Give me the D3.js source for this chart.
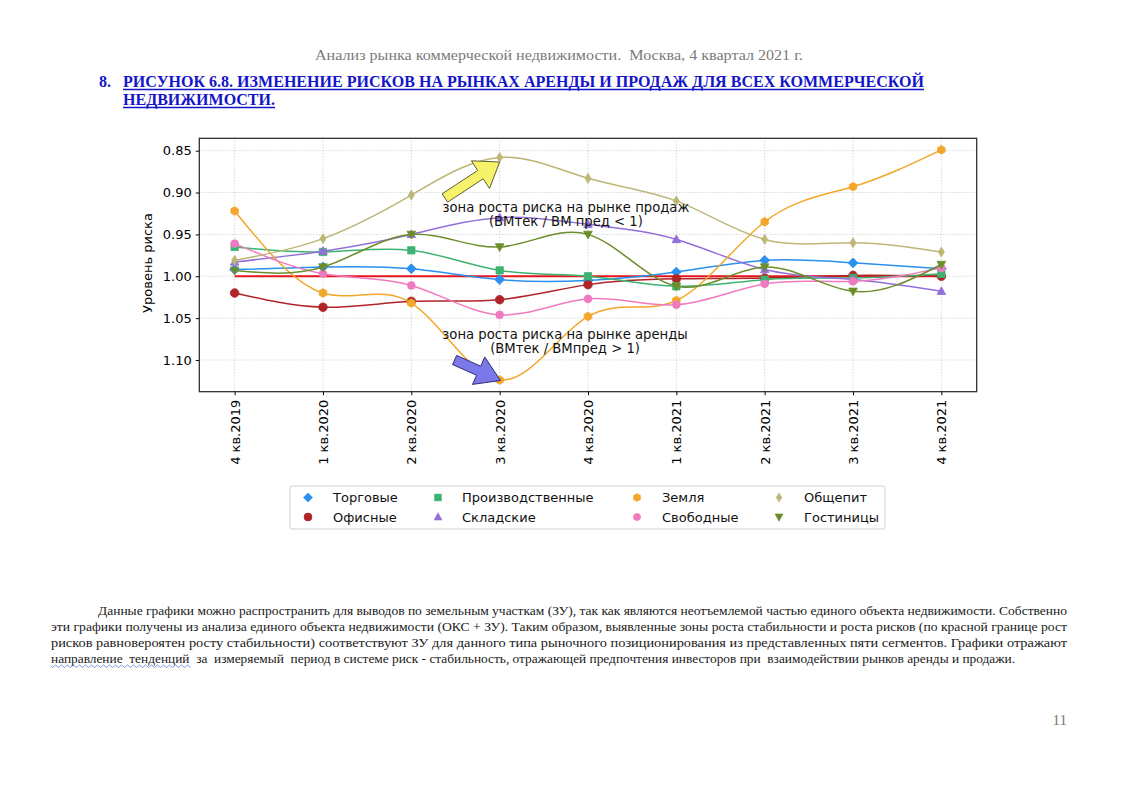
<!DOCTYPE html>
<html><head><meta charset="utf-8">
<script src="https://cdn.jsdelivr.net/npm/d3@7"></script>
<style>
html,body{margin:0;padding:0;background:#fff;}
svg{display:block;}
text{white-space:pre;}
</style></head>
<body>
<svg id="page" width="1121" height="790"></svg>
<script>
// ---------- DATA ----------
const quarters = ["4 кв.2019","1 кв.2020","2 кв.2020","3 кв.2020","4 кв.2020","1 кв.2021","2 кв.2021","3 кв.2021","4 кв.2021"];
const seriesNames = ["Торговые","Офисные","Производственные","Складские","Земля","Свободные","Общепит","Гостиницы"];
const torgovye   = [0.992,0.989,0.991,1.004,1.005,0.995,0.981,0.984,0.991];
const ofisnye    = [1.020,1.037,1.030,1.028,1.010,1.003,1.002,0.999,1.000];
const proizv     = [0.965,0.971,0.969,0.993,1.000,1.012,1.004,1.002,0.997];
const skladskie  = [0.983,0.970,0.950,0.930,0.938,0.956,0.992,1.004,1.018];
const zemlya     = [0.922,1.020,1.032,1.124,1.048,1.029,0.935,0.893,0.849];
const svobodnye  = [0.961,0.997,1.011,1.046,1.027,1.034,1.009,1.006,0.990];
const obshchepit = [0.981,0.955,0.903,0.858,0.883,0.910,0.956,0.960,0.971];
const gostinitsy = [0.993,0.989,0.950,0.965,0.950,1.012,0.989,1.018,0.986];
const borderLevel = [1,1,1,1,1,1,1,1,1];
const yTicks = [0.85,0.90,0.95,1.00,1.05,1.10];
const seriesValues = [torgovye,ofisnye,proizv,skladskie,zemlya,svobodnye,obshchepit,gostinitsy];
const seriesColors = ["#2a8ff0","#b02428","#3cb371","#9270d8","#f2a62a","#f07ac0","#bdb776","#6b8e2a"];
const seriesMarkers = ["D","o","s","^","h","o2","d","v"];
const annoText1 = ["зона роста риска на рынке продаж","(ВМтек / ВМ пред < 1)"];
const annoText2 = ["зона роста риска на рынке аренды","(ВМтек / ВМпред > 1)"];
// annotation anchors in data coords [x index, value]
const arrow1 = {from:[2.38,0.9065], to:[3.0,0.8635]};
const arrow2 = {from:[2.49,1.100], to:[3.01,1.1245]};
const anno1Pos = [3.75,0.918];
const anno2Pos = [3.74,1.070];

const headerText = "Анализ рынка коммерческой недвижимости.  Москва, 4 квартал 2021 г.";
const titleNum = "8.";
const titleLines = ["РИСУНОК 6.8. ИЗМЕНЕНИЕ РИСКОВ НА РЫНКАХ АРЕНДЫ И ПРОДАЖ ДЛЯ ВСЕХ КОММЕРЧЕСКОЙ","НЕДВИЖИМОСТИ."];
const paraLines = [
 "Данные графики можно распространить для выводов по земельным участкам (ЗУ), так как являются неотъемлемой частью единого объекта недвижимости. Собственно",
 "эти графики получены из анализа единого объекта недвижимости (ОКС + ЗУ). Таким образом, выявленные зоны роста стабильности и роста рисков (по красной границе рост",
 "рисков равновероятен росту стабильности) соответствуют ЗУ для данного типа рыночного позиционирования из представленных пяти сегментов. Графики отражают",
 "направление  тенденций  за  измеряемый  период в системе риск - стабильность, отражающей предпочтения инвесторов при  взаимодействии рынков аренды и продажи."
];
const pageNum = "11";

// ---------- PAGE ----------
const svg = d3.select("#page");
svg.append("rect").attr("width",1121).attr("height",790).attr("fill","#fff");

const serif = "'Liberation Serif','Times New Roman',serif";
svg.append("text").attr("x",315).attr("y",60).attr("font-family",serif).attr("font-size",15)
  .attr("fill","#7a7a7a").attr("textLength",488).attr("lengthAdjust","spacingAndGlyphs").text(headerText);

svg.append("text").attr("x",99).attr("y",87).attr("font-family",serif).attr("font-size",16)
  .attr("font-weight","bold").attr("fill","#1414c8").text(titleNum);
const tl = [{t:titleLines[0],y:87,w:801},{t:titleLines[1],y:105,w:152}];
tl.forEach(d=>{
  svg.append("text").attr("x",123).attr("y",d.y).attr("font-family",serif).attr("font-size",16)
    .attr("font-weight","bold").attr("fill","#1414c8").attr("textLength",d.w).attr("lengthAdjust","spacingAndGlyphs").text(d.t);
  svg.append("line").attr("x1",123).attr("x2",123+d.w).attr("y1",d.y+2.5).attr("y2",d.y+2.5)
    .attr("stroke","#1414c8").attr("stroke-width",1.3);
});

const pl = [{x:98,w:969,y:615},{x:51,w:1016,y:631},{x:51,w:1016,y:647},{x:51,w:964,y:663}];
pl.forEach((d,i)=>{
  svg.append("text").attr("x",d.x).attr("y",d.y).attr("font-family",serif).attr("font-size",12.5)
    .attr("fill","#1a1a1a").attr("textLength",d.w).attr("lengthAdjust","spacingAndGlyphs").text(paraLines[i]);
});
// spell-check wavy underline under "направление тенденций"
{
  let p = "M51,666";
  for(let x=51;x<190;x+=3){ p += ` L${x+1.5},${(x/3)%2?667.5:665}`; }
  svg.append("path").attr("d",p).attr("fill","none").attr("stroke","#5a7fd0").attr("stroke-width",0.8);
}
svg.append("text").attr("x",1067).attr("y",725).attr("text-anchor","end").attr("font-family",serif)
  .attr("font-size",15).attr("fill","#7a7a7a").text(pageNum);

// ---------- CHART ----------
const font = "'DejaVu Sans',sans-serif";
const L=199.3, R=976.7, T=138.3, B=391.7;
const x = d3.scaleLinear().domain([-0.4,8.4]).range([L,R]);
const y = d3.scaleLinear().domain([0.8352,1.1379]).range([T,B]);
const g = svg.append("g");

// grid
g.selectAll(".gx").data(quarters).enter().append("line")
  .attr("x1",(d,i)=>x(i)).attr("x2",(d,i)=>x(i)).attr("y1",T).attr("y2",B)
  .attr("stroke","#b8b8b8").attr("stroke-width",0.8).attr("stroke-dasharray","1,2");
g.selectAll(".gy").data(yTicks).enter().append("line")
  .attr("x1",L).attr("x2",R).attr("y1",d=>y(d)).attr("y2",d=>y(d))
  .attr("stroke","#b8b8b8").attr("stroke-width",0.8).attr("stroke-dasharray","1,2");

// axes
const yAxis = d3.axisLeft(y).tickValues(yTicks).tickFormat(d3.format(".2f")).tickSize(3.5).tickPadding(4);
const ya = g.append("g").attr("transform",`translate(${L},0)`).call(yAxis);
ya.select(".domain").remove();
ya.selectAll("text").attr("font-family",font).attr("font-size",13).attr("fill","#000");
ya.selectAll("line").attr("stroke","#000");
const xAxis = d3.axisBottom(x).tickValues(d3.range(quarters.length)).tickFormat(i=>quarters[i]).tickSize(3.5).tickPadding(4);
const xa = g.append("g").attr("transform",`translate(0,${B})`).call(xAxis);
xa.select(".domain").remove();
xa.selectAll("line").attr("stroke","#000");
xa.selectAll("text").attr("font-family",font).attr("font-size",13).attr("fill","#000")
  .attr("transform","translate(0,8) rotate(-90)").attr("text-anchor","end").attr("dy","0.35em").attr("y",0).attr("x",0);

g.append("text").attr("transform",`translate(152,${(T+B)/2-2}) rotate(-90)`).attr("text-anchor","middle")
  .attr("font-family",font).attr("font-size",13).text("Уровень риска");

// red border line
const line = d3.line().x((d,i)=>x(i)).y(d=>y(d)).curve(d3.curveNatural);
g.append("path").attr("d",d3.line().x((d,i)=>x(i)).y(d=>y(d))(borderLevel))
  .attr("fill","none").attr("stroke","#e8141c").attr("stroke-width",2);

function markerPath(type, s){
  const r=s;
  switch(type){
    case "D": return `M0,${-r*1.15}L${r*1.15},0L0,${r*1.15}L${-r*1.15},0Z`;
    case "d": return `M0,${-r*1.15}L${r*0.7},0L0,${r*1.15}L${-r*0.7},0Z`;
    case "s": return `M${-r*0.85},${-r*0.85}H${r*0.85}V${r*0.85}H${-r*0.85}Z`;
    case "^": return `M0,${-r*1.05}L${r},${r*0.75}L${-r},${r*0.75}Z`;
    case "v": return `M0,${r*1.05}L${r},${-r*0.75}L${-r},${-r*0.75}Z`;
    case "h": { let p=""; for(let k=0;k<6;k++){const a=Math.PI/6+k*Math.PI/3; p+=(k?"L":"M")+(r*Math.cos(a)).toFixed(2)+","+(r*Math.sin(a)).toFixed(2);} return p+"Z"; }
    case "o2": return d3.symbol(d3.symbolCircle, Math.PI*(r*0.9)*(r*0.9))();
    default: return d3.symbol(d3.symbolCircle, Math.PI*r*r)();
  }
}

seriesValues.forEach((vals,si)=>{
  const c = seriesColors[si];
  g.append("path").attr("d",line(vals)).attr("fill","none").attr("stroke",c).attr("stroke-width",1.5);
  g.selectAll(null).data(vals).enter().append("path")
    .attr("d",markerPath(seriesMarkers[si],4.3))
    .attr("transform",(d,i)=>`translate(${x(i)},${y(d)})`)
    .attr("fill",c).attr("stroke",c).attr("stroke-width",0.8);
});

// frame
g.append("rect").attr("x",L).attr("y",T).attr("width",R-L).attr("height",B-T)
  .attr("fill","none").attr("stroke","#222").attr("stroke-width",1.2);

// annotation arrows
function fancyArrow(from,to,shaftW,headW,headL,fill,stroke){
  const x0=x(from[0]),y0=y(from[1]),x1=x(to[0]),y1=y(to[1]);
  const dx=x1-x0, dy=y1-y0, len=Math.hypot(dx,dy), ux=dx/len, uy=dy/len, px=-uy, py=ux;
  const bx=x1-ux*headL, by=y1-uy*headL;
  const pts=[
    [x0+px*shaftW/2,y0+py*shaftW/2],[bx+px*shaftW/2,by+py*shaftW/2],[bx+px*headW/2,by+py*headW/2],
    [x1,y1],[bx-px*headW/2,by-py*headW/2],[bx-px*shaftW/2,by-py*shaftW/2],[x0-px*shaftW/2,y0-py*shaftW/2]];
  g.append("path").attr("d","M"+pts.map(p=>p.join(",")).join("L")+"Z")
    .attr("fill",fill).attr("stroke",stroke).attr("stroke-width",1);
}
fancyArrow(arrow1.from,arrow1.to,10,33,23,"#f6f26a","#5e5e3a");
fancyArrow(arrow2.from,arrow2.to,10,30,24,"#7b78ea","#2e2e7a");

[[annoText1,anno1Pos],[annoText2,anno2Pos]].forEach(([lines,pos])=>{
  lines.forEach((t,k)=>{
    g.append("text").attr("x",x(pos[0])).attr("y",y(pos[1])+k*14).attr("dy","0.35em")
      .attr("text-anchor","middle").attr("font-family",font).attr("font-size",13.2).attr("fill","#111").text(t);
  });
});

// legend
const lg = svg.append("g");
lg.append("rect").attr("x",290).attr("y",486).attr("width",595).attr("height",43).attr("rx",2)
  .attr("fill","#fff").attr("stroke","#d0d0d0").attr("stroke-width",1);
const colMX=[308,438,637,779], colTX=[333,462,662,804], rowY=[497.5,517];
seriesNames.forEach((n,i)=>{
  const col=Math.floor(i/2), row=i%2;
  lg.append("path").attr("d",markerPath(seriesMarkers[i],4.0))
    .attr("transform",`translate(${colMX[col]},${rowY[row]})`).attr("fill",seriesColors[i]).attr("stroke",seriesColors[i]).attr("stroke-width",0.6);
  lg.append("text").attr("x",colTX[col]).attr("y",rowY[row]).attr("dy","0.35em")
    .attr("font-family",font).attr("font-size",13).attr("fill","#111").text(n);
});
</script>
</body></html>
